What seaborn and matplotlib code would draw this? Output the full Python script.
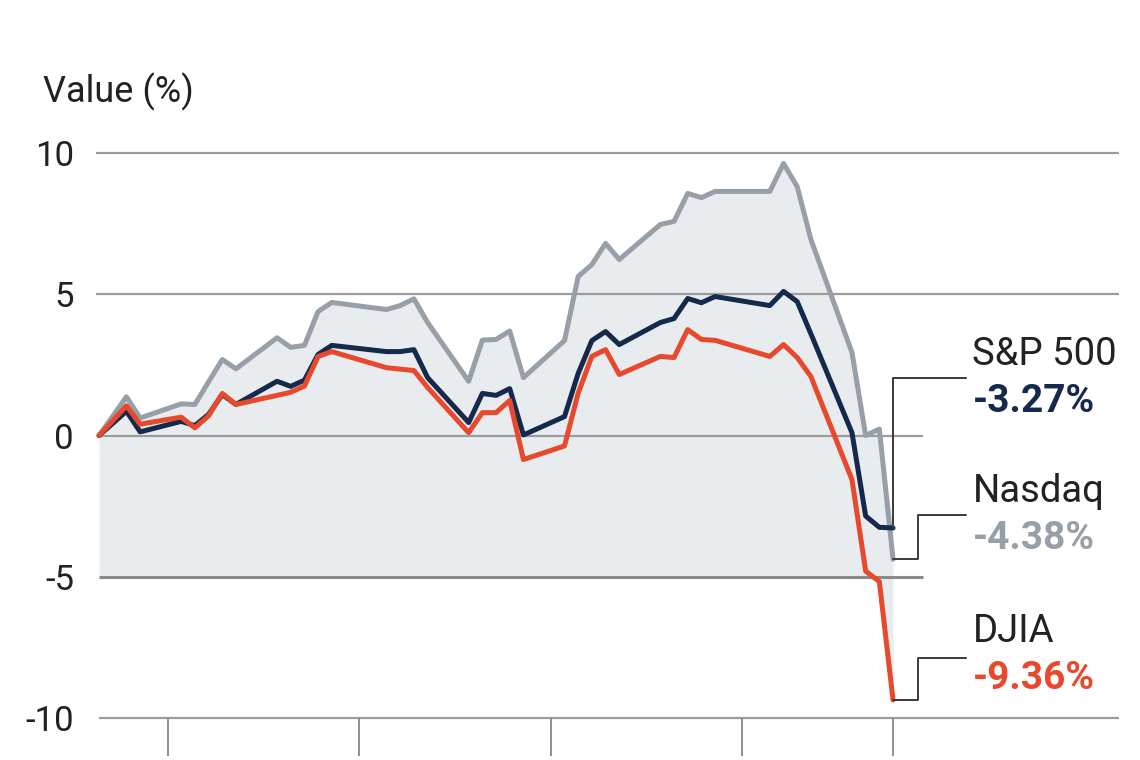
import numpy as np
import pandas as pd
import matplotlib
matplotlib.use('Agg')
import matplotlib.pyplot as plt
import seaborn as sns

# 데이터
days = [0, 2, 3, 6, 7, 8, 9, 10, 13, 14, 15, 16, 17, 21, 22, 23, 24, 27, 28, 29,
        30, 31, 34, 35, 36, 37, 38, 41, 42, 43, 44, 45, 49, 50, 51, 52, 55, 56, 57, 58]
nasdaq = [0, 1.37, 0.62, 1.12, 1.1, 1.9, 2.69, 2.36, 3.46, 3.12, 3.19, 4.39, 4.71, 4.46,
          4.6, 4.84, 4.0, 1.92, 3.38, 3.4, 3.7, 2.05, 3.36, 5.63, 6.05, 6.8, 6.23, 7.47,
          7.58, 8.57, 8.42, 8.64, 8.64, 9.63, 8.81, 6.94, 2.94, 0.0, 0.23, -4.38]
sp500 = [0, 0.86, 0.13, 0.5, 0.35, 0.75, 1.45, 1.1, 1.92, 1.74, 1.96, 2.87, 3.19, 2.97,
         2.97, 3.04, 2.05, 0.46, 1.49, 1.42, 1.66, 0.02, 0.67, 2.2, 3.36, 3.68, 3.22, 4.0,
         4.14, 4.85, 4.7, 4.92, 4.6, 5.1, 4.74, 3.6, 0.1, -2.85, -3.25, -3.27]
djia = [0, 1.05, 0.4, 0.65, 0.27, 0.7, 1.49, 1.1, 1.42, 1.53, 1.75, 2.8, 2.97, 2.4,
        2.35, 2.3, 1.7, 0.1, 0.81, 0.81, 1.24, -0.85, -0.37, 1.5, 2.8, 3.04, 2.16, 2.8,
        2.76, 3.75, 3.4, 3.37, 2.8, 3.22, 2.76, 2.09, -1.56, -4.8, -5.17, -9.36]

series_names = ['Nasdaq', 'S&P 500', 'DJIA']
series_colors = {'Nasdaq': '#979fa8', 'S&P 500': '#14294c', 'DJIA': '#e8482b'}
final_labels = ['-3.27%', '-4.38%', '-9.36%']   # S&P, Nasdaq, DJIA
y_ticks = [-10, -5, 0, 5, 10]
y_tick_labels = ['-10', '-5', '0', '5', '10']
x_ticks = [5, 19, 33, 47, 58]

df = pd.DataFrame({'day': days * 3,
                   'value': nasdaq + sp500 + djia,
                   'index': ['Nasdaq'] * len(days) + ['S&P 500'] * len(days) + ['DJIA'] * len(days)})

sns.set_theme(style='white')
plt.rcParams['font.family'] = ['Roboto', 'DejaVu Sans']

fig = plt.figure(figsize=(11.4, 7.6), dpi=100)
ax = fig.add_axes([0.0845, 0.0478, 0.897, 0.7583])

x_lo, x_hi = -0.2, 74.5
ax.set_xlim(x_lo, x_hi)
ax.set_ylim(-10.2, 10.2)

# 배경 음영
upper = np.maximum(np.maximum(nasdaq, sp500), djia)
lower = np.minimum(djia, -5)
ax.fill_between(days, upper, lower, color='#e9ecef', lw=0, zorder=1)

# 가로 격자선
ax.hlines([10, 5], x_lo, x_hi, color='#9c9c9c', lw=1.6, zorder=2)
ax.hlines([0], 0, 60.2, color='#9c9c9c', lw=1.6, zorder=2)
ax.hlines([-5], 0, 60.2, color='#8a8a8a', lw=2.2, zorder=2)
ax.hlines([-10], 0, x_hi, color='#9c9c9c', lw=1.6, zorder=2)
# 아래 눈금
ax.vlines(x_ticks, -10, -11.35, color='#8f8f8f', lw=1.4, clip_on=False)

sns.lineplot(data=df, x='day', y='value', hue='index', hue_order=series_names,
             palette=series_colors, linewidth=3.6, legend=False, ax=ax, zorder=3,
             estimator=None, sort=False)

# 오른쪽 라벨과 연결선
lab_x = 63.8
conn_end = 63.3
line_kw = dict(color='#3a3a3a', lw=1.4, clip_on=False, zorder=4)
# S&P 500
ax.plot([days[-1], days[-1], conn_end], [sp500[-1], 2.02, 2.02], **line_kw)
# Nasdaq
ax.plot([days[-1], 59.8, 59.8, conn_end], [nasdaq[-1], nasdaq[-1], -2.8, -2.8], **line_kw)
# DJIA
ax.plot([days[-1], 59.8, 59.8, conn_end], [djia[-1], djia[-1], -7.86, -7.86], **line_kw)

name_y = [2.87, -1.98, -6.94]
val_y = [1.2, -3.65, -8.6]
order = ['S&P 500', 'Nasdaq', 'DJIA']
for name, ny, vy, txt in zip(order, name_y, val_y, final_labels):
    ax.text(lab_x, ny, name, fontsize=27.5, color='#222222', va='center', ha='left')
    ax.text(lab_x, vy, txt, fontsize=28, fontweight='bold', color=series_colors[name],
            va='center', ha='left')

ax.set_yticks(y_ticks)
ax.set_yticklabels(y_tick_labels)
ax.set_xticks([])
ax.tick_params(axis='y', length=0, pad=16, labelsize=25, labelcolor='#222222')
ax.set_xlabel('')
ax.set_ylabel('')
for s in ax.spines.values():
    s.set_visible(False)
ax.patch.set_alpha(0)

fig.text(43 / 1140, 1 - 92 / 760, 'Value (%)', fontsize=26, color='#222222', va='center', ha='left')

fig.savefig('out.png', dpi=100)
